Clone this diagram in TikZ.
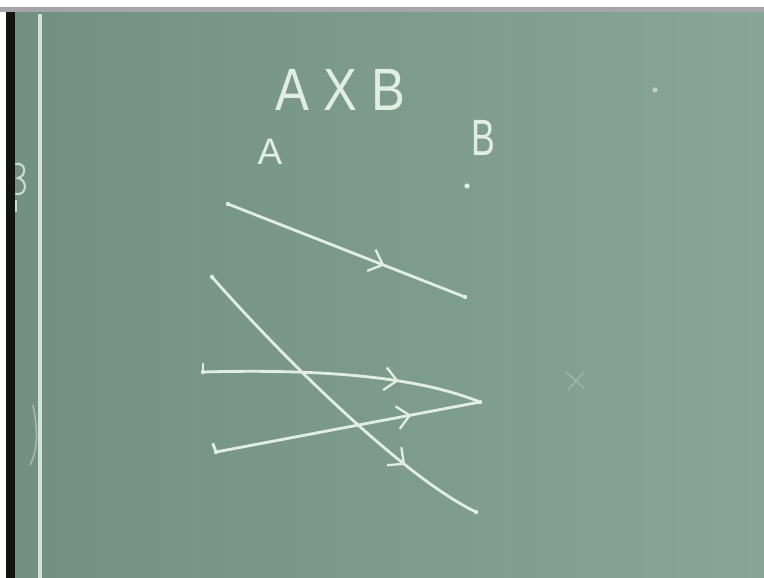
\documentclass[tikz,border=0pt]{standalone}
\usepackage{fontspec}
\setsansfont{Liberation Sans}
\usetikzlibrary{arrows.meta,decorations.markings}
\definecolor{boarddark}{RGB}{114,144,130}
\definecolor{boardlight}{RGB}{136,166,152}
\definecolor{chalk}{RGB}{226,238,228}
\definecolor{rail}{RGB}{18,20,16}
\tikzset{
  chalkline/.style={chalk, line width=1.6pt, line cap=round},
  midarrow/.style={postaction={decorate}, decoration={markings,
      mark=at position #1 with {\arrow[chalk, line width=1.3pt]{Straight Barb[length=7pt, width=13pt]}}}},
  chalktext/.style={chalk, font=\sffamily, inner sep=0pt},
  enddot/.style={chalk, fill=chalk, circle, inner sep=0pt, minimum size=3.5pt},
}
\begin{document}
\begin{tikzpicture}[x=0.02cm, y=-0.02cm]
  \useasboundingbox (0,0) rectangle (764,578);
  % Board and frame
  \fill[white] (0,0) rectangle (764,578);
  \shade[left color=boarddark, right color=boardlight] (6,12) rectangle (764,578);
  \fill[gray!70] (0,7) rectangle (764,12);
  \fill[rail] (6,12) rectangle (15,578);
  % Vertical chalk line
  \draw[chalk!85!boardlight, line width=2pt] (40,14) -- (40,578);
  % Partial writing at the left edge
  \draw[chalk!80!boarddark, line width=1.2pt, line cap=round]
    (16,164) .. controls (26,162) and (27,176) .. (18,178)
    .. controls (28,180) and (27,196) .. (16,194);
  \draw[chalk!80!boarddark, line width=1.2pt] (16,200) -- (16,212);
  \draw[chalk!40!boarddark, line width=1pt] (33,405) .. controls (38,430) and (38,450) .. (30,465);
  % Labels
  \node[chalktext, font=\sffamily\fontsize{34}{34}\selectfont, xscale=0.85] (title) at (340,90) {A X B};
  \node[chalktext, font=\sffamily\fontsize{21}{21}\selectfont] (setA) at (270,152) {A};
  \node[chalktext, font=\sffamily\fontsize{29}{29}\selectfont, xscale=0.7] (setB) at (483,138) {B};
  \node[enddot, minimum size=3pt] (dotB) at (467,186) {};
  \node[enddot, minimum size=3pt, opacity=0.6] (stray) at (655,90) {};
  % End points of the pairs
  \coordinate (a1) at (228,204);
  \coordinate (b1) at (465,297);
  \coordinate (a2) at (212,277);
  \coordinate (b2) at (476,512);
  \coordinate (a3) at (203,372);
  \coordinate (a4) at (216,452);
  \coordinate (b3) at (480,402);
  % Pairs as arrows from A to B
  \draw[chalkline, midarrow=0.66] (a1) -- (b1);
  \draw[chalkline, midarrow=0.76] (a2) .. controls (285,360) and (405,478) .. (b2);
  \draw[chalkline, midarrow=0.70] (a3) .. controls (350,368) and (430,382) .. (b3);
  \draw[chalkline, midarrow=0.74] (a4) -- (b3);
  % Marks at the ends
  \foreach \p in {a1,b1,a2,b2,a3,a4,b3}
    \fill[chalk] (\p) circle (2.2);
  \draw[chalkline] (a3) -- ++(0,-8);
  \draw[chalkline] (a4) -- ++(-3,-8);
  % Faint smudge on the right
  \draw[chalk, opacity=0.25, line width=1pt] (566,372) -- (584,388) (584,372) -- (568,390);
\end{tikzpicture}
\end{document}
